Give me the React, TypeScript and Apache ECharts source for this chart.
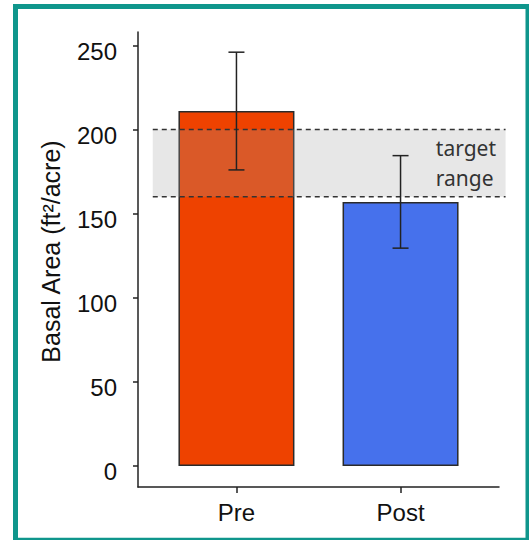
import React, { useEffect, useRef } from "react";
import * as echarts from "echarts";

const categories = ["Pre", "Post"];
const basalArea = [211, 157];
const errorLow = [176, 129.5];
const errorHigh = [246, 184.5];
const barColors = ["#EE4200", "#4671EC"];
const yTicks = [0, 50, 100, 150, 200, 250];
const targetRange = [160, 200];
const targetLabel = "target\nrange";

export default function App() {
  const ref = useRef<HTMLDivElement>(null);
  useEffect(() => {
    if (!ref.current) return;
    const chart = echarts.init(ref.current, null, { renderer: "svg" });
    const font = "'Liberation Sans', Arial, sans-serif";
    const axisColor = "#222";
    const option: any = {
      animation: false,
      backgroundColor: "#fff",
      grid: { left: 138, right: 30, top: 32, bottom: 53 },
      xAxis: {
        type: "value",
        min: 0.4,
        max: 2.6,
        splitLine: { show: false },
        axisLine: { show: true, onZero: false, lineStyle: { color: axisColor, width: 1.5 } },
        axisTick: { show: true, customValues: [1, 2], length: 6, lineStyle: { color: axisColor, width: 1.5 } },
        axisLabel: {
          customValues: [1, 2],
          formatter: (v: number) => categories[Math.round(v) - 1] ?? "",
          fontSize: 24,
          fontFamily: font,
          color: "#111",
          margin: 13,
        },
      },
      yAxis: {
        type: "value",
        min: -12.5,
        max: 258,
        splitLine: { show: false },
        axisLine: { show: true, onZero: false, lineStyle: { color: axisColor, width: 1.5 } },
        axisTick: { show: true, customValues: yTicks, length: 5, lineStyle: { color: axisColor, width: 1.5 } },
        axisLabel: {
          customValues: yTicks,
          fontSize: 24,
          fontFamily: font,
          color: "#111",
          margin: 21,
          verticalAlign: "top",
          lineHeight: 12,
        },
        name: "Basal Area (ft²/acre)",
        nameLocation: "middle",
        nameGap: 75,
        nameTextStyle: { fontSize: 25, fontFamily: font, color: "#111", padding: [0, 0, 0, 16] },
      },
      graphic: [
        {
          type: "rect",
          shape: { x: 15.5, y: 6.5, width: 512.5, height: 533.7 },
          style: { fill: "none", stroke: "#0f968c", lineWidth: 5 },
          z: 100,
        },
      ],
      series: [
        {
          type: "bar",
          barWidth: 116,
          data: basalArea.map((v, i) => ({
            value: [i + 1, v],
            itemStyle: { color: barColors[i], borderColor: "#2a2a2a", borderWidth: 1.5 },
          })),
          z: 2,
        },
        {
          type: "custom",
          z: 4,
          data: basalArea.map((_, i) => [i + 1, errorLow[i], errorHigh[i]]),
          encode: { x: 0, y: [1, 2] },
          renderItem: (params: any, api: any) => {
            const x = api.value(0);
            const lo = api.coord([x, api.value(1)]);
            const hi = api.coord([x, api.value(2)]);
            const hw = 8;
            const style = { stroke: "#222", lineWidth: 1.5 };
            return {
              type: "group",
              children: [
                { type: "line", shape: { x1: lo[0], y1: lo[1], x2: hi[0], y2: hi[1] }, style },
                { type: "line", shape: { x1: hi[0] - hw, y1: hi[1], x2: hi[0] + hw, y2: hi[1] }, style },
                { type: "line", shape: { x1: lo[0] - hw, y1: lo[1], x2: lo[0] + hw, y2: lo[1] }, style },
              ],
            };
          },
        },
        {
          type: "custom",
          z: 3,
          clip: false,
          data: [[0.49, 2.64, targetRange[0], targetRange[1], 2.215]],
          encode: { x: [0, 1], y: [2, 3] },
          renderItem: (params: any, api: any) => {
            const p0 = api.coord([api.value(0), api.value(3)]);
            const p1 = api.coord([api.value(1), api.value(2)]);
            const tx = api.coord([api.value(4), (api.value(2) + api.value(3)) / 2]);
            const dash = { stroke: "#333", lineWidth: 1.5, lineDash: [5, 4] };
            return {
              type: "group",
              children: [
                {
                  type: "rect",
                  shape: { x: p0[0], y: p0[1], width: p1[0] - p0[0], height: p1[1] - p0[1] },
                  style: { fill: "rgba(158,158,158,0.25)" },
                },
                { type: "line", shape: { x1: p0[0], y1: p0[1], x2: p1[0], y2: p0[1] }, style: dash },
                { type: "line", shape: { x1: p0[0], y1: p1[1], x2: p1[0], y2: p1[1] }, style: dash },
                {
                  type: "text",
                  x: tx[0],
                  y: tx[1],
                  style: {
                    text: targetLabel,
                    fontFamily: "'Noto Sans', Lato, sans-serif",
                    fontSize: 21,
                    lineHeight: 30,
                    fill: "#333",
                    align: "left",
                    verticalAlign: "middle",
                  },
                },
              ],
            };
          },
        },
      ],
    };
    chart.setOption(option);
    return () => chart.dispose();
  }, []);
  return (
    <div
      ref={ref}
      style={{ position: "fixed", left: 0, top: 0, width: 529, height: 540, background: "#fff" }}
    />
  );
}
